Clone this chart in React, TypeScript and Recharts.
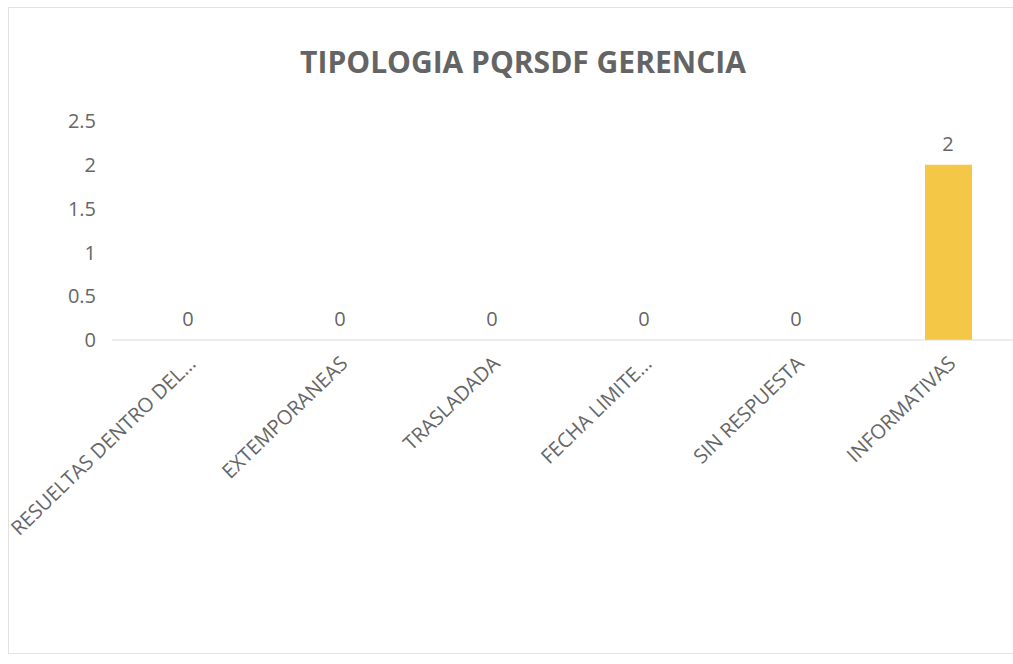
import React from "react";
import { ComposedChart, Bar, Line, XAxis, YAxis, LabelList } from "recharts";

const categories = [
  "RESUELTAS DENTRO DEL...",
  "EXTEMPORANEAS",
  "TRASLADADA",
  "FECHA LIMITE...",
  "SIN RESPUESTA",
  "INFORMATIVAS",
];
const values = [0, 0, 0, 0, 0, 2];
const yTicks = [0, 0.5, 1, 1.5, 2, 2.5];
const title = "TIPOLOGIA PQRSDF GERENCIA";

const data = categories.map((name, i) => ({ name, value: values[i] }));

const FONT = "'Open Sans', 'Liberation Sans', sans-serif";
const TEXT = "#666666";

const RotTick = (props: any) => {
  const { x, y, payload } = props;
  const ax = x + 9;
  const ay = y + 17;
  return (
    <text
      x={ax}
      y={ay}
      transform={`rotate(-44, ${ax}, ${ay})`}
      textAnchor="end"
      fill={TEXT}
      fontSize={20}
      fontFamily={FONT}
    >
      {payload.value}
    </text>
  );
};

export default function App() {
  return (
    <div
      style={{
        position: "absolute",
        left: 0,
        top: 0,
        width: 1013,
        height: 664,
        overflow: "hidden",
        background: "#ffffff",
      }}
    >
      <div
        style={{
          position: "absolute",
          left: 8,
          top: 7,
          width: 1100,
          height: 647,
          border: "1px solid #e2e2e2",
          boxSizing: "border-box",
        }}
      />
      <div
        style={{
          position: "absolute",
          left: 0,
          top: 42,
          width: 1046,
          textAlign: "center",
          fontFamily: FONT,
          fontWeight: 700,
          fontSize: 30,
          color: "#646464",
          lineHeight: "40px",
        }}
      >
        {title}
      </div>
      <div style={{ position: "absolute", left: 0, top: 0 }}>
        <ComposedChart
          width={1030}
          height={664}
          data={data}
          margin={{ top: 121, right: 6, left: 40, bottom: 124 }}
        >
          <XAxis
            dataKey="name"
            interval={0}
            tickLine={false}
            axisLine={{ stroke: "#d9d9d9", strokeWidth: 1 }}
            height={200}
            tick={<RotTick />}
          />
          <YAxis
            domain={[0, 2.5]}
            ticks={yTicks}
            axisLine={false}
            tickLine={false}
            width={72}
            tickMargin={10}
            tick={{ fill: TEXT, fontSize: 20, fontFamily: FONT }}
          />
          <Bar dataKey="value" fill="#F4C846" barSize={47} isAnimationActive={false} />
          <Line
            dataKey="value"
            stroke="none"
            dot={false}
            activeDot={false}
            legendType="none"
            isAnimationActive={false}
          >
            <LabelList
              dataKey="value"
              position="top"
              offset={14}
              fill={TEXT}
              fontSize={20}
              fontFamily={FONT}
            />
          </Line>
        </ComposedChart>
      </div>
    </div>
  );
}
